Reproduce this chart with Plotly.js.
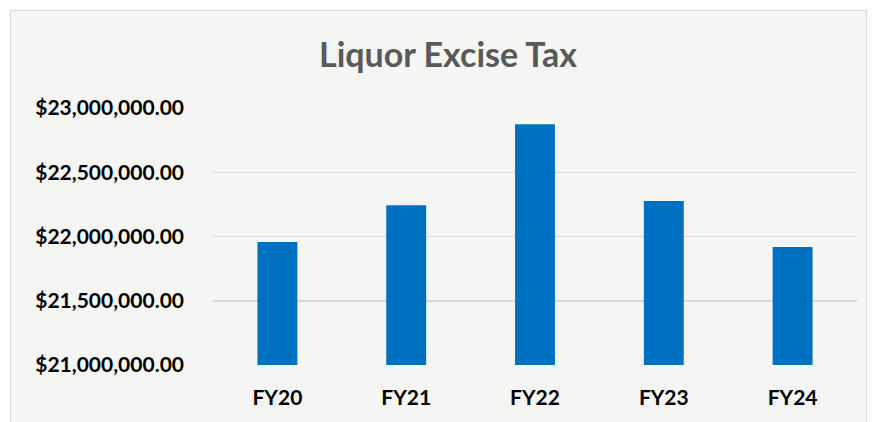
<!DOCTYPE html>
<html>
<head>
<meta charset="utf-8">
<script src="https://cdn.plot.ly/plotly-3.0.1.min.js"></script>
<style>
  html, body { margin: 0; padding: 0; background: #ffffff; width: 875px; height: 422px; overflow: hidden; }
  #frame { position: absolute; left: 10px; top: 10px; width: 855px; height: 420px; border: 1px solid #d9d9d9; background: #f5f5f4; }
  #chart { position: absolute; left: 0; top: 0; width: 875px; height: 422px; }
</style>
</head>
<body>
<div id="frame"></div>
<div id="chart"></div>
<script>
const categories = ["FY20", "FY21", "FY22", "FY23", "FY24"];
const values = [21957000, 22243000, 22873000, 22276000, 21918000];
const yTickValues = [21000000, 21500000, 22000000, 22500000, 23000000];
const chartTitle = "Liquor Excise Tax";

const trace = {
  type: "bar",
  x: categories,
  y: values,
  marker: { color: "#0070C0" },
  width: 0.31,
  hoverinfo: "x+y"
};

const layout = {
  width: 875,
  height: 422,
  paper_bgcolor: "rgba(0,0,0,0)",
  plot_bgcolor: "rgba(0,0,0,0)",
  margin: { l: 213, r: 18, t: 108, b: 57 },
  showlegend: false,
  font: { family: "Lato, 'Open Sans', sans-serif", color: "#000000" },
  title: {
    text: "<b>" + chartTitle + "</b>",
    font: { family: "Lato, 'Open Sans', sans-serif", size: 34, color: "#595959" },
    x: 0.512, xanchor: "center",
    y: 0.87, yanchor: "middle"
  },
  xaxis: {
    type: "category",
    showgrid: false,
    showline: false,
    zeroline: false,
    ticks: "",
    tickfont: { size: 21, color: "#000000", weight: "bold" },
    ticklabelstandoff: 18
  },
  yaxis: {
    range: [21000000, 23000000],
    tickvals: yTickValues,
    tickformat: "$,.2f",
    showgrid: true,
    gridcolor: "#d9d9d9",
    gridwidth: 1.5,
    zeroline: false,
    showline: false,
    ticks: "",
    tickfont: { size: 21, color: "#000000", weight: "bold" },
    ticklabelstandoff: 28
  },
  bargap: 0.69
};

Plotly.newPlot("chart", [trace], layout, { displayModeBar: false, staticPlot: true });
</script>
</body>
</html>
